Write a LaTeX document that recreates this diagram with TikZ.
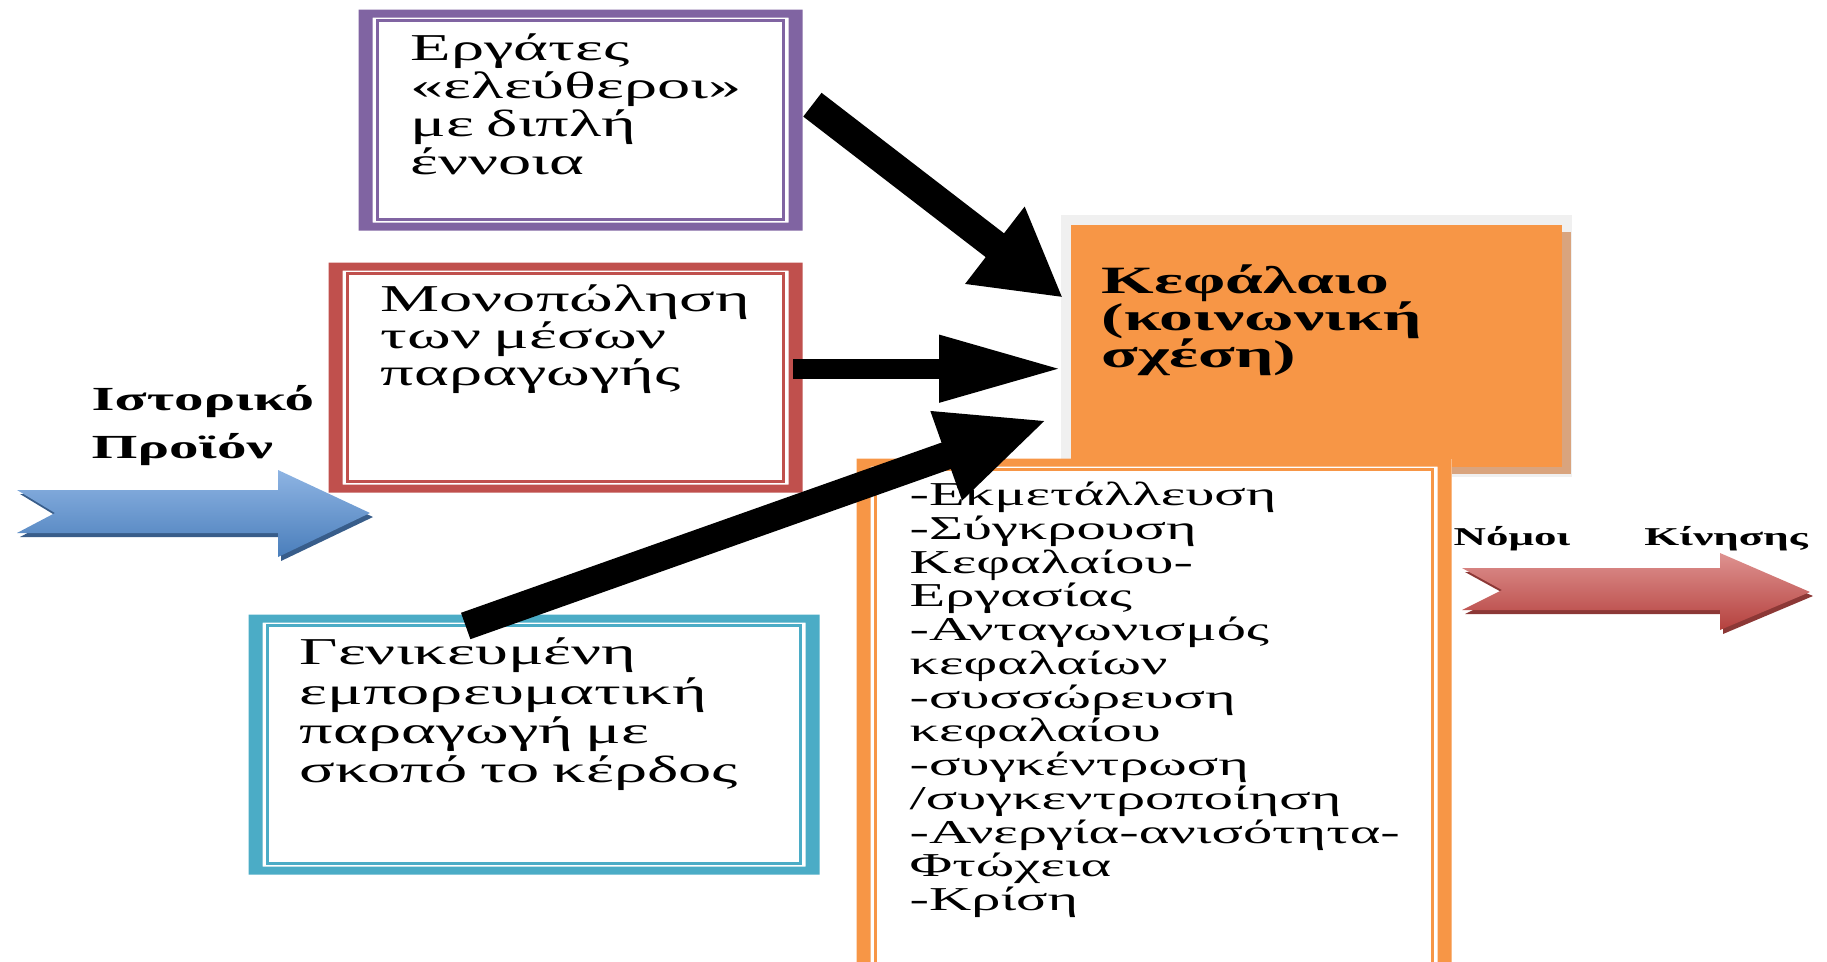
\documentclass[tikz,border=0pt]{standalone}
\usepackage{fontspec}
\setmainfont{Liberation Serif}[FakeStretch=1.75]
\usetikzlibrary{arrows.meta,positioning}
\exhyphenpenalty=10000
\hyphenpenalty=10000

\definecolor{ergcol}{HTML}{8064A2}
\definecolor{monocol}{HTML}{C0504D}
\definecolor{gencol}{HTML}{4BACC6}
\definecolor{kefcol}{HTML}{F79646}
\definecolor{kefgrey}{HTML}{F0F0F0}
\definecolor{kefshade}{HTML}{D9A47E}
\definecolor{histtop}{HTML}{8EB4E3}
\definecolor{histbot}{HTML}{4A7EBB}
\definecolor{histdark}{HTML}{385D8A}
\definecolor{nomtop}{HTML}{DE9290}
\definecolor{nombot}{HTML}{B5413E}
\definecolor{nomdark}{HTML}{8C3836}

\begin{document}
\begin{tikzpicture}[x=1cm,y=1cm,
  txt/.style={font=\fontsize{10.8}{10.5}\selectfont\lineskiplimit-10pt},
  gbox/.style={anchor=north west, fill=white, inner ysep=0pt, inner xsep=0.52cm,
    align=left, txt,
    path picture={
      \fill[#1, even odd rule]
        (path picture bounding box.north west) rectangle (path picture bounding box.south east)
        ([shift={(0.14,-0.08)}]path picture bounding box.north west) rectangle
        ([shift={(-0.14,0.08)}]path picture bounding box.south east);
      \draw[#1, line width=0.025cm]
        ([shift={(0.19,-0.11)}]path picture bounding box.north west) rectangle
        ([shift={(-0.19,0.11)}]path picture bounding box.south east);
    }},
  kefbox/.style={anchor=north west, fill=kefcol, inner ysep=0pt, inner xsep=0.31cm,
    align=left, font=\fontsize{11}{10.5}\selectfont\lineskiplimit-10pt\bfseries,
    preaction={draw=kefgrey, line width=0.2cm},
    preaction={fill=kefshade, transform canvas={shift={(0.09,-0.07)}}}},
  lbl/.style={anchor=base west, inner sep=0pt, align=left,
    font=\fontsize{9.6}{13.4}\selectfont\lineskiplimit-10pt\bfseries},
  thick arrow/.style={draw=black, line width=#1}]

\useasboundingbox (0,0) rectangle (18.27,-9.61);

% the three conditions
\node[gbox=ergcol, text width=3.40cm, text height=0.51cm, text depth=1.70cm,
  font=\fontsize{10.8}{10.8}\selectfont\lineskiplimit-10pt]
  (erg) at (3.58,-0.09) {Εργάτες\\«ελεύθεροι»\\με διπλή\\έννοια};
\node[gbox=monocol, text width=3.70cm, text height=0.49cm, text depth=1.81cm]
  (mono) at (3.28,-2.62) {Μονοπώληση\\των μέσων\\παραγωγής};
\node[gbox=gencol, text width=4.69cm, text height=0.50cm, text depth=2.10cm,
  inner xsep=0.51cm, font=\fontsize{10.8}{11.2}\selectfont\lineskiplimit-10pt]
  (gen) at (2.48,-6.14) {Γενικευμένη\\εμπορευματική\\παραγωγή με\\σκοπό το κέρδος};

% capital and its laws
\node[kefbox, text width=4.29cm, text height=0.69cm, text depth=1.73cm]
  (kef) at (10.70,-2.24) {Κεφάλαιο\\(κοινωνική\\σχέση)};
\node[gbox=kefcol, text width=4.89cm, text height=0.47cm, text depth=4.85cm,
  inner xsep=0.53cm, font=\fontsize{9.5}{9.6}\selectfont\lineskiplimit-10pt]
  (laws) at (8.56,-4.58) {-Εκμετάλλευση\\-Σύγκρουση\\Κεφαλαίου-\\Εργασίας\\-Ανταγωνισμός\\κεφαλαίων\\-συσσώρευση\\κεφαλαίου\\-συγκέντρωση\\/συγκεντροποίηση\\-Ανεργία-ανισότητα-\\Φτώχεια\\-Κρίση};

% the links
\draw[thick arrow=0.30cm, -{Triangle[length=0.86cm,width=0.91cm]}]
  ([shift={(0.09,0.155)}]erg.east) -- ([shift={(-0.07,0.48)}]kef.west);
\draw[thick arrow=0.20cm, -{Triangle[length=1.24cm,width=0.62cm]}]
  ([shift={(-0.10,0.09)}]mono.east) -- ([shift={(-0.07,-0.23)}]kef.west);
\draw[thick arrow=0.28cm, -{Triangle[length=1.08cm,width=0.86cm]}]
  ([shift={(-0.685,-0.12)}]gen.north) -- ([shift={(-0.22,-0.74)}]kef.west);

% block arrows with their labels
\fill[histdark] (0.20,-4.94) -- (2.81,-4.94) -- (2.81,-4.74) -- (3.73,-5.17)
  -- (2.81,-5.61) -- (2.81,-5.37) -- (0.20,-5.37) -- (0.58,-5.17) -- cycle;
\shade[top color=histtop, bottom color=histbot]
  (0.17,-4.90) -- (2.78,-4.90) -- (2.78,-4.70) -- (3.70,-5.13)
  -- (2.78,-5.57) -- (2.78,-5.33) -- (0.17,-5.33) -- (0.55,-5.13) -- cycle;
\node[lbl] (hist) at (0.91,-4.58) {Ιστορικό\\Προϊόν};

\fill[nomdark] (14.65,-5.72) -- (17.23,-5.72) -- (17.23,-5.57) -- (18.13,-5.96)
  -- (17.23,-6.34) -- (17.23,-6.14) -- (14.65,-6.14) -- (15.05,-5.94) -- cycle;
\shade[top color=nomtop, bottom color=nombot]
  (14.62,-5.68) -- (17.20,-5.68) -- (17.20,-5.53) -- (18.10,-5.92)
  -- (17.20,-6.30) -- (17.20,-6.10) -- (14.62,-6.10) -- (15.02,-5.90) -- cycle;
\node[lbl, text width=3.54cm, font=\fontsize{7.3}{10}\selectfont\bfseries]
  (nomoi) at (14.53,-5.45) {Νόμοι\hspace{\fill}Κίνησης};

\end{tikzpicture}
\end{document}
